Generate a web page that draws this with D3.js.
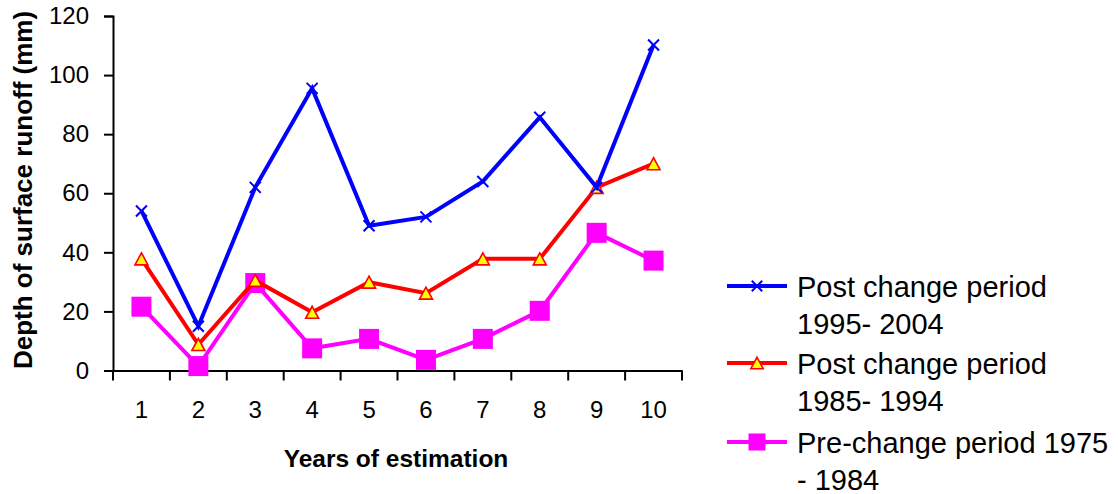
<!DOCTYPE html>
<html>
<head>
<meta charset="utf-8">
<script src="https://cdn.jsdelivr.net/npm/d3@7"></script>
<style>
  html, body { margin: 0; padding: 0; background: #fff; }
  svg { display: block; font-family: "Liberation Sans", Arial, sans-serif; }
</style>
</head>
<body>
<svg id="chart" width="1118" height="494"></svg>
<script>
// Years of estimation (1..10)
const years = [1, 2, 3, 4, 5, 6, 7, 8, 9, 10];
const yTicks = [0, 20, 40, 60, 80, 100, 120];

// Depth of surface runoff (mm) per period
const post1995 = [54, 15, 62, 95.5, 49, 52, 64, 85.7, 62, 110.2];
const post1985 = [37.8, 8.8, 30.5, 19.7, 29.9, 26.2, 37.8, 37.8, 62, 70];
const pre1975 = [21.6, 1.5, 29.6, 7.5, 10.7, 3.6, 10.7, 20.2, 46.6, 37.2];

const seriesNames = [
  ["Post change period", "1995- 2004"],
  ["Post change period", "1985- 1994"],
  ["Pre-change period 1975", "- 1984"]
];

const series = [
  { values: post1995, color: "#0000ff", marker: "x", label: seriesNames[0] },
  { values: post1985, color: "#ff0000", marker: "triangle", label: seriesNames[1] },
  { values: pre1975, color: "#ff00ff", marker: "square", label: seriesNames[2] }
];

const svg = d3.select("#chart");
const plotLeft = 113, plotRight = 682, plotTop = 16, plotBottom = 370.5;

const x = d3.scaleBand().domain(years).range([plotLeft, plotRight]);
const y = d3.scaleLinear().domain([0, 120]).range([plotBottom, plotTop]);
const cx = d => x(d) + x.bandwidth() / 2;

// Axes
const yAxis = d3.axisLeft(y).tickValues(yTicks).tickSize(9).tickPadding(15);
const gy = svg.append("g").attr("transform", `translate(${plotLeft},0)`).call(yAxis);
gy.select(".domain").attr("stroke", "#000").attr("stroke-width", 2);
gy.selectAll(".tick line").attr("stroke", "#000").attr("stroke-width", 2);
gy.selectAll(".tick text").attr("font-size", 24).attr("fill", "#000")
  .attr("font-family", "Liberation Sans, Arial, sans-serif");

const xAxis = d3.axisBottom(x).tickSize(0).tickPadding(30);
const gx = svg.append("g").attr("transform", `translate(0,${plotBottom})`).call(xAxis);
gx.select(".domain").attr("stroke", "#000").attr("stroke-width", 2);
gx.selectAll(".tick text").attr("font-size", 24).attr("fill", "#000")
  .attr("font-family", "Liberation Sans, Arial, sans-serif");
// category boundary ticks
const bounds = years.map(d => x(d)).concat([plotRight]);
gx.selectAll(".bound").data(bounds).enter().append("line")
  .attr("x1", d => d).attr("x2", d => d)
  .attr("y1", 0).attr("y2", 10)
  .attr("stroke", "#000").attr("stroke-width", 2);

// Axis titles
svg.append("text")
  .attr("x", 396).attr("y", 466.5)
  .attr("text-anchor", "middle")
  .attr("font-size", 24.5).attr("font-weight", "bold")
  .text("Years of estimation");

svg.append("text")
  .attr("transform", "translate(32,190) rotate(-90)")
  .attr("text-anchor", "middle")
  .attr("font-size", 26).attr("font-weight", "bold")
  .text("Depth of surface runoff (mm)");

// Marker drawing
function drawMarker(g, type, color, px, py, scale) {
  const s = scale || 1;
  if (type === "x") {
    const h = 5.5 * s;
    g.append("path")
      .attr("d", `M${px - h},${py - h}L${px + h},${py + h}M${px - h},${py + h}L${px + h},${py - h}`)
      .attr("stroke", color).attr("stroke-width", 2).attr("fill", "none");
  } else if (type === "triangle") {
    const w = 6.5 * s, hh = 6 * s;
    g.append("path")
      .attr("d", `M${px},${py - hh}L${px + w},${py + hh}L${px - w},${py + hh}Z`)
      .attr("fill", "#ffff00").attr("stroke", color).attr("stroke-width", 1.6);
  } else {
    const h = 10 * s;
    g.append("rect")
      .attr("x", px - h).attr("y", py - h)
      .attr("width", 2 * h).attr("height", 2 * h)
      .attr("fill", color);
  }
}

const line = d3.line().x((d, i) => cx(years[i])).y(d => y(d));

// Draw bottom-most series first so the first series sits on top
series.slice().reverse().forEach(s => {
  const g = svg.append("g");
  g.append("path")
    .attr("d", line(s.values))
    .attr("fill", "none")
    .attr("stroke", s.color)
    .attr("stroke-width", 4)
    .attr("stroke-linejoin", "miter");
  s.values.forEach((v, i) => drawMarker(g, s.marker, s.color, cx(years[i]), y(v)));
});

// Legend
const legendY = [286, 363, 442];
series.forEach((s, i) => {
  const g = svg.append("g");
  const ly = legendY[i];
  g.append("line")
    .attr("x1", 727).attr("x2", 787).attr("y1", ly).attr("y2", ly)
    .attr("stroke", s.color).attr("stroke-width", 4);
  drawMarker(g, s.marker, s.color, 757, ly, s.marker === "square" ? 0.85 : 0.95);
  const t = g.append("text").attr("x", 797).attr("y", ly + 11)
    .attr("font-size", 29).attr("fill", "#000");
  t.append("tspan").attr("x", 797).text(s.label[0]);
  t.append("tspan").attr("x", 797).attr("dy", 36.5).text(s.label[1]);
});
</script>
</body>
</html>
